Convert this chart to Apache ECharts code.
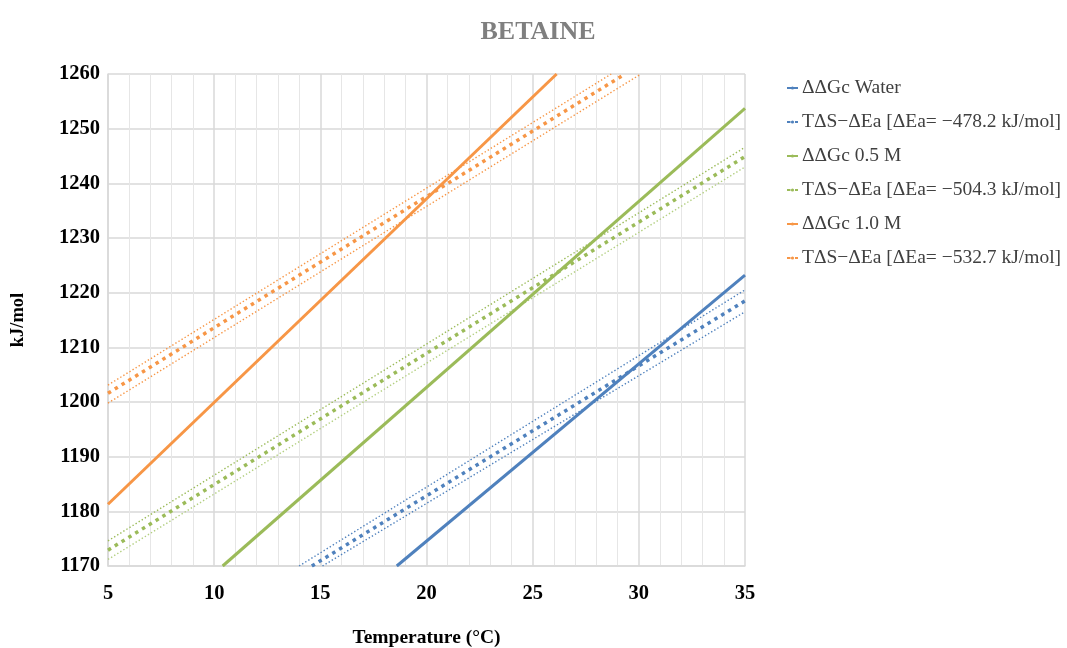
<!DOCTYPE html>
<html lang="en">
<head>
    <meta charset="UTF-8">
    <title>BETAINE</title>
    <script src="https://cdn.jsdelivr.net/npm/echarts@6/dist/echarts.min.js"></script>
    <style>
        html, body { margin: 0; padding: 0; background: #fff; }
        #main { width: 1067px; height: 648px; }
    </style>
</head>
<body>
<div id="main"></div>
<script type="text/javascript">
    // tick labels
    var xTicks = [5, 10, 15, 20, 25, 30, 35];
    var yTicks = [1170, 1180, 1190, 1200, 1210, 1220, 1230, 1240, 1250, 1260];

    // legend names
    var names = [
        'ΔΔGc Water',
        'TΔS−ΔEa [ΔEa= −478.2 kJ/mol]',
        'ΔΔGc 0.5 M',
        'TΔS−ΔEa [ΔEa= −504.3 kJ/mol]',
        'ΔΔGc 1.0 M',
        'TΔS−ΔEa [ΔEa= −532.7 kJ/mol]'
    ];

    // [temperature, kJ/mol] (end points of each straight line)
    var waterGc = [[18.6, 1170], [35, 1223.2]];
    var waterTS = [[14.6, 1170], [35, 1218.5]];
    var waterTSHi = [[14.0, 1170], [35, 1220.5]];
    var waterTSLo = [[15.1, 1170], [35, 1216.5]];

    var m05Gc = [[10.4, 1170], [35, 1253.7]];
    var m05TS = [[5, 1172.9], [35, 1244.9]];
    var m05TSHi = [[5, 1174.6], [35, 1246.6]];
    var m05TSLo = [[5, 1171.2], [35, 1243.0]];

    var m10Gc = [[5, 1181.3], [26.13, 1260]];
    var m10TS = [[5, 1201.6], [29.35, 1260]];
    var m10TSHi = [[5, 1203.1], [28.7, 1260]];
    var m10TSLo = [[5, 1199.8], [30.1, 1260]];

    var blue = '#4f81bd', green = '#9bbb59', orange = '#f79646';
    var serif = '"Liberation Serif", "DejaVu Serif", serif';

    function solid(name, data, color) {
        return { name: name, type: 'line', data: data, showSymbol: false, symbol: 'none', z: 3,
            lineStyle: { color: color, width: 3 }, itemStyle: { color: color } };
    }
    function dots(name, data, color) {
        return { name: name, type: 'line', data: data, showSymbol: false, symbol: 'none', z: 2,
            lineStyle: { color: color, width: 3.5, type: [3.5, 4.5], cap: 'butt' }, itemStyle: { color: color } };
    }
    // thin dotted band lines (not in legend)
    function band(data, color) {
        return { name: 'band', type: 'line', data: data, showSymbol: false, symbol: 'none', z: 1,
            lineStyle: { color: color, width: 1.4, type: [1.4, 2.2], cap: 'butt' }, silent: true };
    }

    var chart = echarts.init(document.getElementById('main'));
    chart.setOption({
        animation: false,
        title: {
            text: 'BETAINE', left: 533, top: 14, textAlign: 'center',
            textStyle: { fontFamily: serif, fontSize: 26, fontWeight: 'bold', color: '#7f7f7f' }
        },
        legend: {
            data: names, orient: 'vertical', left: 781, top: 73, itemGap: 14,
            itemWidth: 11, itemHeight: 4,
            textStyle: { fontFamily: serif, fontSize: 19.5, color: '#404040', padding: [0, 0, 0, -1] }
        },
        grid: { left: 108, right: 322, top: 74, bottom: 82, containLabel: false, outerBoundsMode: 'none' },
        xAxis: {
            type: 'value', min: 5, max: 35, interval: 5,
            name: 'Temperature (°C)', nameLocation: 'middle', nameGap: 62,
            nameTextStyle: { fontFamily: serif, fontSize: 19.5, fontWeight: 'bold', color: '#000' },
            axisLine: { show: true, lineStyle: { color: '#d9d9d9', width: 1.5 } },
            axisTick: { show: false },
            axisLabel: { fontFamily: serif, fontSize: 20.5, fontWeight: 'bold', color: '#000', margin: 17,
                formatter: function (v) { return xTicks.indexOf(v) >= 0 ? String(v) : ''; } },
            splitLine: { show: true, lineStyle: { color: '#d9d9d9', width: 1.5 } },
            minorTick: { show: false, splitNumber: 5 },
            minorSplitLine: { show: true, lineStyle: { color: '#e6e6e6', width: 1 } }
        },
        yAxis: {
            type: 'value', min: 1170, max: 1260, interval: 10,
            name: 'kJ/mol', nameLocation: 'middle', nameGap: 80, nameRotate: 90,
            nameTextStyle: { fontFamily: serif, fontSize: 18.5, fontWeight: 'bold', color: '#000' },
            axisLine: { show: true, lineStyle: { color: '#d9d9d9', width: 1.5 } },
            axisTick: { show: false },
            axisLabel: { fontFamily: serif, fontSize: 20.5, fontWeight: 'bold', color: '#000', margin: 8,
                formatter: function (v) { return yTicks.indexOf(v) >= 0 ? String(v) : ''; } },
            splitLine: { show: true, lineStyle: { color: '#d9d9d9', width: 1.5 } }
        },
        series: [
            band(waterTSHi, blue), band(waterTSLo, blue),
            band(m05TSHi, green), band(m05TSLo, '#b3cf80'),
            band(m10TSHi, orange), band(m10TSLo, orange),
            solid(names[0], waterGc, blue),
            dots(names[1], waterTS, blue),
            solid(names[2], m05Gc, green),
            dots(names[3], m05TS, green),
            solid(names[4], m10Gc, orange),
            dots(names[5], m10TS, orange)
        ]
    });
</script>
</body>
</html>
